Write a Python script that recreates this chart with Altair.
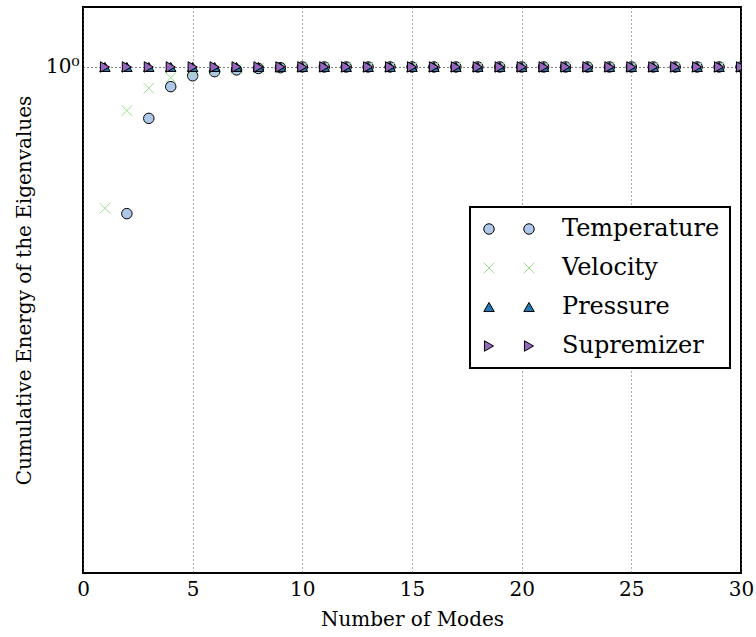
import altair as alt
import pandas as pd

series_names = ["Temperature", "Velocity", "Pressure", "Supremizer"]
fill_colors = ["#aec7e8", "transparent", "#1f77b4", "#9467bd"]
stroke_colors = ["black", "#98df8a", "black", "black"]
shapes = ["circle", "M-1,-1L1,1M-1,1L1,-1", "triangle-up", "triangle-right"]

modes = list(range(1, 31))
temperature_modes = list(range(2, 31))
temperature = [0.818, 0.932, 0.9734, 0.988, 0.9936, 0.996, 0.998, 0.999] + [1.0] * 21
velocity = [0.824, 0.942, 0.9713, 0.9854, 0.993, 0.996, 0.997, 0.998, 0.999] + [1.0] * 21
pressure = [1.0] * 30
supremizer = [1.0] * 30

rows = []
for m, v in zip(temperature_modes, temperature):
    rows.append({"mode": m, "energy": v, "series": "Temperature"})
for m, v in zip(modes, velocity):
    rows.append({"mode": m, "energy": v, "series": "Velocity"})
for m, v in zip(modes, pressure):
    rows.append({"mode": m, "energy": v, "series": "Pressure"})
for m, v in zip(modes, supremizer):
    rows.append({"mode": m, "energy": v, "series": "Supremizer"})
df = pd.DataFrame(rows)

FONT = "DejaVu Serif"

x_enc = alt.X(
    "mode:Q",
    title="Number of Modes",
    scale=alt.Scale(domain=[0, 30], nice=False),
    axis=alt.Axis(values=[0, 5, 10, 15, 20, 25, 30], grid=True, gridDash=[1, 3],
                  gridColor="#555555", gridWidth=1, ticks=False, domain=False,
                  labelPadding=6, titlePadding=10, labelFontSize=20, titleFontSize=20,
                  labelFont=FONT, titleFont=FONT, labelColor="black", titleColor="black",
                  titleFontWeight="normal", labelFlush=False),
)
y_enc = alt.Y(
    "energy:Q",
    title="Cumulative Energy of the Eigenvalues",
    scale=alt.Scale(type="log", domain=[0.5, 1.0856], nice=False),
    axis=alt.Axis(values=[1], labelExpr="'10⁰'", grid=True, gridDash=[1, 3],
                  gridColor="black", gridWidth=1, ticks=False, domain=False,
                  labelPadding=4, titlePadding=11, labelFontSize=20, titleFontSize=20,
                  labelFont=FONT, titleFont=FONT, labelColor="black", titleColor="black",
                  titleFontWeight="normal"),
)

def enc(legend):
    return dict(
        fill=alt.Fill("series:N", scale=alt.Scale(domain=series_names, range=fill_colors), legend=legend, sort=series_names),
        stroke=alt.Stroke("series:N", scale=alt.Scale(domain=series_names, range=stroke_colors), legend=legend, sort=series_names),
        shape=alt.Shape("series:N", scale=alt.Scale(domain=series_names, range=shapes), legend=legend, sort=series_names),
    )

legend_main = alt.Legend(
    title=None, orient="none", legendX=387, legendY=200,
    fillColor="white", strokeColor="black", padding=10,
    labelFont=FONT, labelFontSize=24, labelColor="black", rowPadding=15, labelLimit=400,
    symbolSize=110, symbolStrokeWidth=1, symbolOffset=37, labelOffset=21,
)
legend_second = alt.Legend(
    title=None, orient="none", legendX=387, legendY=200,
    padding=10, labelFont=FONT, labelFontSize=24, labelExpr="' '", rowPadding=15,
    symbolSize=110, symbolStrokeWidth=1, symbolOffset=-3, labelOffset=21,
    symbolOpacity=1,
)

points = alt.Chart(df).mark_point(filled=True, size=110, strokeWidth=1, opacity=1, clip=True).encode(
    x=x_enc, y=y_enc, **enc(legend_main)
)
ghost = alt.Chart(df).mark_point(filled=True, size=110, strokeWidth=1, opacity=0, clip=True).encode(
    x=x_enc, y=y_enc, **enc(legend_second)
)

chart = (
    alt.layer(points, ghost)
    .resolve_scale(fill="independent", stroke="independent", shape="independent")
    .resolve_legend(fill="independent", stroke="independent", shape="independent")
    .properties(
        width=658, height=566,
        autosize=alt.AutoSizeParams(type="none"),
        padding={"left": 83, "top": 7, "right": 15, "bottom": 64},
        background="white",
    )
    .configure_view(stroke="black", strokeWidth=2)
    .configure_legend(strokeWidth=2)
)

chart.save("out.html", embed_options={"renderer": "svg", "actions": False})
